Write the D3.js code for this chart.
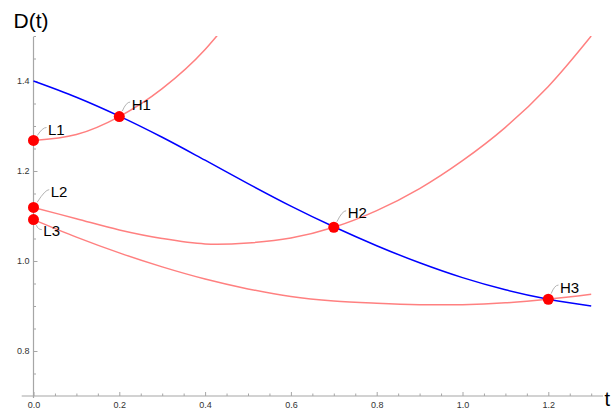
<!DOCTYPE html>
<html>
<head>
<meta charset="utf-8">
<script src="https://cdn.jsdelivr.net/npm/d3@7"></script>
<style>
  html, body { margin: 0; padding: 0; background: #fff; }
  svg { display: block; font-family: "Liberation Sans", Arial, sans-serif; }
</style>
</head>
<body>
<div id="chart"></div>
<script>
const tSamples = [0, 0.1, 0.2, 0.3, 0.4, 0.5, 0.6, 0.7, 0.8, 0.9, 1.0, 1.1, 1.2, 1.3];
const blueD = [1.400, 1.364, 1.322, 1.275, 1.224, 1.172, 1.122, 1.076, 1.034, 0.996, 0.963, 0.936, 0.915, 0.900];
const redL2 = [1.119, 1.094, 1.069, 1.050, 1.038, 1.040, 1.051, 1.075, 1.112, 1.161, 1.223, 1.297, 1.388, 1.500];
const redL3 = [1.092, 1.053, 1.018, 0.987, 0.960, 0.938, 0.921, 0.911, 0.906, 0.903, 0.903, 0.907, 0.915, 0.926];
const l1T = [0, 0.1, 0.2, 0.3, 0.4, 0.43];
const redL1 = [1.268, 1.281, 1.321, 1.383, 1.470, 1.503];

// marked points
const pointNames = ['L1', 'L2', 'L3', 'H1', 'H2', 'H3'];
const pointT = [0, 0, 0, 0.2, 0.7, 1.2];
const pointD = [1.268, 1.119, 1.092, 1.321, 1.075, 0.915];

const xMajor = [0, 0.2, 0.4, 0.6, 0.8, 1.0, 1.2];
const yMajor = [0.8, 1.0, 1.2, 1.4];

// callout placement (text offset from the point, in px)
const callout = {
  L1: [14.5, -5.4], L2: [17.2, -10.3], L3: [9.8, 16],
  H1: [12.4, -7], H2: [13.9, -9], H3: [11.7, -6.7]
};

const width = 613, height = 412;
const x = d3.scaleLinear().domain([0, 1.3]).range([33.5, 591.2]);
const y = d3.scaleLinear().domain([0.7, 1.5]).range([396, 36]);

const svg = d3.select('#chart').append('svg')
  .attr('width', width)
  .attr('height', height);

svg.append('defs').append('clipPath').attr('id', 'plotClip')
  .append('rect')
  .attr('x', 0).attr('y', y(1.5))
  .attr('width', width).attr('height', y(0.7) - y(1.5));

// axes lines
const axisColor = '#a6a6a6';
svg.append('line')
  .attr('x1', 21.7).attr('x2', 603)
  .attr('y1', y(0.7)).attr('y2', y(0.7))
  .attr('stroke', axisColor).attr('stroke-width', 1.2);
svg.append('line')
  .attr('x1', x(0)).attr('x2', x(0))
  .attr('y1', y(1.5) + 1).attr('y2', y(0.7) + 2)
  .attr('stroke', axisColor).attr('stroke-width', 1.2);

const fmt = d3.format('.1f');
const minorX = d3.range(0, 27).map(i => i * 0.05).filter(v => !xMajor.some(m => Math.abs(m - v) < 1e-6));
const minorY = d3.range(0, 17).map(i => 0.7 + i * 0.05).filter(v => !yMajor.some(m => Math.abs(m - v) < 1e-6) && v > 0.71);

function styleAxis(g) {
  g.select('.domain').remove();
  g.selectAll('line').attr('stroke', axisColor);
  g.selectAll('text')
    .attr('fill', '#333')
    .style('font-size', '9px')
    .style('font-family', '"Liberation Sans", Arial, sans-serif');
}

svg.append('g')
  .attr('transform', `translate(0,${y(0.7)})`)
  .call(d3.axisBottom(x).tickValues(xMajor).tickFormat(fmt).tickSizeInner(-4).tickSizeOuter(0).tickPadding(6))
  .call(styleAxis);
svg.append('g')
  .attr('transform', `translate(0,${y(0.7)})`)
  .call(d3.axisBottom(x).tickValues(minorX).tickFormat('').tickSizeInner(-2.5).tickSizeOuter(0))
  .call(styleAxis);

svg.append('g')
  .attr('transform', `translate(${x(0)},0)`)
  .call(d3.axisLeft(y).tickValues(yMajor).tickFormat(fmt).tickSizeInner(-4).tickSizeOuter(0).tickPadding(4))
  .call(styleAxis);
svg.append('g')
  .attr('transform', `translate(${x(0)},0)`)
  .call(d3.axisLeft(y).tickValues(minorY).tickFormat('').tickSizeInner(-2.5).tickSizeOuter(0))
  .call(styleAxis);

// axis labels
svg.append('text')
  .attr('x', 13.5).attr('y', 27.7)
  .style('font-size', '21px')
  .attr('fill', '#000')
  .text('D(t)');
svg.append('text')
  .attr('x', 604.5).attr('y', 406)
  .style('font-size', '20px')
  .attr('fill', '#000')
  .text('t');

// curves
const monoLine = d3.line()
  .x(d => x(d[0]))
  .y(d => y(d[1]))
  .curve(d3.curveMonotoneX);
const smoothLine = d3.line()
  .x(d => x(d[0]))
  .y(d => y(d[1]))
  .curve(d3.curveCatmullRom.alpha(0.5));

const plot = svg.append('g').attr('clip-path', 'url(#plotClip)');

const redSeries = [
  { pts: d3.zip(l1T, redL1), gen: monoLine },
  { pts: d3.zip(tSamples, redL2), gen: smoothLine },
  { pts: d3.zip(tSamples, redL3), gen: smoothLine }
];
plot.selectAll('path.red')
  .data(redSeries)
  .join('path')
  .attr('class', 'red')
  .attr('d', d => d.gen(d.pts))
  .attr('fill', 'none')
  .attr('stroke', '#ff8080')
  .attr('stroke-width', 1.5);

plot.append('path')
  .datum(d3.zip(tSamples, blueD))
  .attr('d', monoLine)
  .attr('fill', 'none')
  .attr('stroke', '#0000ff')
  .attr('stroke-width', 1.5);

// points
const pts = pointNames.map((name, i) => ({ name, t: pointT[i], d: pointD[i] }));
const r = 5.5;

svg.selectAll('circle.pt')
  .data(pts)
  .join('circle')
  .attr('class', 'pt')
  .attr('cx', d => x(d.t))
  .attr('cy', d => y(d.d))
  .attr('r', r)
  .attr('fill', '#ff0000');

// callouts: short leader + label
pts.forEach(p => {
  const px = x(p.t), py = y(p.d);
  const [dx, dy] = callout[p.name];
  const tx = px + dx, ty = py + dy;
  const below = dy > 0;
  const ex = tx - 1.5, ey = below ? ty - 6 : ty - 7.5;
  const ang = Math.atan2(ey - py, ex - 3 - px);
  const sx = px + Math.cos(ang) * (r + 0.8), sy = py + Math.sin(ang) * (r + 0.8);
  svg.append('path')
    .attr('d', `M${sx},${sy} Q${ex - 4},${ey} ${ex},${ey}`)
    .attr('fill', 'none')
    .attr('stroke', '#b3b3b3')
    .attr('stroke-width', 1);
  svg.append('text')
    .attr('x', tx).attr('y', ty)
    .style('font-size', '15px')
    .attr('fill', '#000')
    .text(p.name);
});
</script>
</body>
</html>
